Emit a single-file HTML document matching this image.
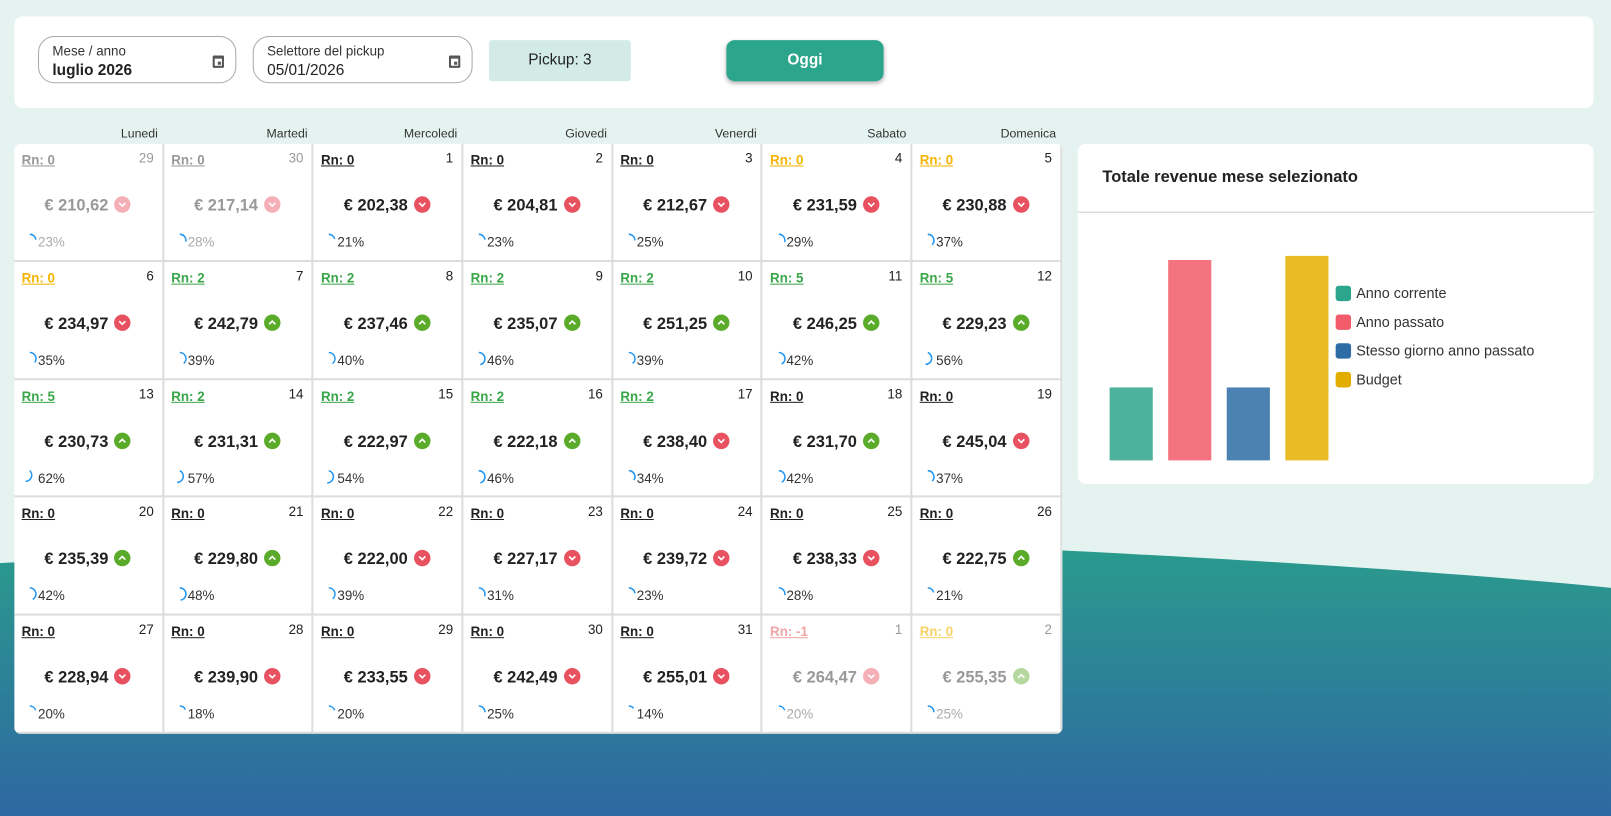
<!DOCTYPE html>
<html><head><meta charset="utf-8"><style>
*{box-sizing:border-box;margin:0;padding:0}
html,body{width:1611px;height:816px;overflow:hidden;background:#e4f3ef;font-family:"Liberation Sans",sans-serif;color:#222}
#w{position:absolute;left:0;top:0;width:1568px;height:794px;transform:scale(1.02742,1.0277);transform-origin:0 0}
.abs{position:absolute}
.card{background:#fff;border-radius:8px}
.field{position:absolute;top:35px;height:46px;border:1px solid #aaa;border-radius:16px;background:#fff}
.field .l{position:absolute;left:13px;top:6px;font-size:13px;color:#333}
.field .v{position:absolute;left:13px;top:24px;font-size:15px;font-weight:bold;color:#222}
.field .ic{position:absolute;right:11px;top:18px;width:11px;height:12px;border:2px solid #555;border-top-width:3px;border-radius:1px}
.field .ic:after{content:"";position:absolute;right:1px;bottom:1px;width:3px;height:3px;background:#555}
.hd{position:absolute;top:123px;font-size:12px;color:#333;text-align:right;width:140px}
#grid{position:absolute;left:14px;top:140px;width:1020px;height:574px;background:#fff;border-radius:6px;overflow:hidden}
.c{position:absolute;border-right:2px solid #ddd;border-bottom:2px solid #ddd}
.rn{position:absolute;left:8px;top:9px;font-size:13px;font-weight:bold;text-decoration:underline}
.dn{position:absolute;right:8px;top:7px;font-size:13px;color:#222}
.pr{position:absolute;left:0;right:0;top:52px;text-align:center;font-size:16px;font-weight:bold;color:#222}
.ico{display:inline-block;width:16px;height:16px;border-radius:50%;vertical-align:-2px;margin-left:6px;position:relative}
.ico svg{position:absolute;left:0;top:0}
.pc{position:absolute;left:10px;top:88px;font-size:13px;color:#333}
.pc svg{vertical-align:-1px;margin-right:1px}
.f{opacity:.45}
</style></head><body><div id="w">
<svg class="abs" style="left:0;top:0" width="1568" height="794">
<defs><linearGradient id="g" x1="0" y1="0" x2="0" y2="1"><stop offset="0" stop-color="#2a9c8c"/><stop offset="1" stop-color="#2e67a2"/></linearGradient></defs>
<path d="M0 548 C300 530 700 520 1000 534 C1250 546 1450 560 1568 572 L1568 794 L0 794Z" fill="url(#g)"/>
</svg>
<div class="card abs" style="left:14px;top:16px;width:1537px;height:89px"></div>
<div class="field" style="left:37px;width:193px"><div class="l">Mese / anno</div><div class="v">luglio 2026</div><div class="ic"></div></div>
<div class="field" style="left:246px;width:214px"><div class="l">Selettore del pickup</div><div class="v" style="font-weight:normal">05/01/2026</div><div class="ic"></div></div>
<div class="abs" style="left:476px;top:39px;width:138px;height:40px;background:#d3ebe6;border-radius:3px;text-align:center;line-height:40px;font-size:15px">Pickup: 3</div>
<div class="abs" style="left:707px;top:39px;width:153px;height:40px;background:#2ba58c;border-radius:8px;text-align:center;line-height:40px;font-size:15px;font-weight:bold;color:#fff;box-shadow:0 2px 4px rgba(0,0,0,.3)">Oggi</div>
<div id="hds"></div>
<div id="grid"></div>
<div class="card abs" style="left:1049px;top:140px;width:502px;height:331px">
<div class="abs" style="left:24px;top:24px;font-size:16px;font-weight:bold;color:#222">Totale revenue mese selezionato</div>
<div class="abs" style="left:0;top:66px;width:502px;height:1px;background:#ccc"></div>
</div>
<svg class="abs" style="left:1049px;top:140px" width="502" height="331" font-family="Liberation Sans, sans-serif" font-size="14" fill="#333">
<rect x="31" y="237" width="42" height="71" fill="#4db19c"/>
<rect x="88" y="113" width="42" height="195" fill="#f5737f"/>
<rect x="145" y="237" width="42" height="71" fill="#4c82b1"/>
<rect x="202" y="109" width="42" height="199" fill="#e9bc26"/>
<rect x="251" y="138" width="15" height="15" rx="3" fill="#2ba58c"/><text x="271" y="150">Anno corrente</text>
<rect x="251" y="166" width="15" height="15" rx="3" fill="#f15b6a"/><text x="271" y="178">Anno passato</text>
<rect x="251" y="194" width="15" height="15" rx="3" fill="#2e6ca5"/><text x="271" y="206">Stesso giorno anno passato</text>
<rect x="251" y="222" width="15" height="15" rx="3" fill="#e3ad00"/><text x="271" y="234">Budget</text>
</svg>
</div>
<script>
var days=["Lunedi","Martedi","Mercoledi","Giovedi","Venerdi","Sabato","Domenica"];
var cw=145.7,ch=114.8,h="";
days.forEach(function(d,i){h+='<div class="hd" style="left:'+(14+cw*(i+1)-146)+'px">'+d+'</div>'});
document.getElementById("hds").innerHTML=h;
var K="#222",G="#3aa64a",O="#f5b400",S="#e86a6a";
var D=[
[29,0,K,"210,62",0,23,1],[30,0,K,"217,14",0,28,1],[1,0,K,"202,38",0,21],[2,0,K,"204,81",0,23],[3,0,K,"212,67",0,25],[4,0,O,"231,59",0,29],[5,0,O,"230,88",0,37],
[6,0,O,"234,97",0,35],[7,2,G,"242,79",1,39],[8,2,G,"237,46",1,40],[9,2,G,"235,07",1,46],[10,2,G,"251,25",1,39],[11,5,G,"246,25",1,42],[12,5,G,"229,23",1,56],
[13,5,G,"230,73",1,62],[14,2,G,"231,31",1,57],[15,2,G,"222,97",1,54],[16,2,G,"222,18",1,46],[17,2,G,"238,40",0,34],[18,0,K,"231,70",1,42],[19,0,K,"245,04",0,37],
[20,0,K,"235,39",1,42],[21,0,K,"229,80",1,48],[22,0,K,"222,00",0,39],[23,0,K,"227,17",0,31],[24,0,K,"239,72",0,23],[25,0,K,"238,33",0,28],[26,0,K,"222,75",1,21],
[27,0,K,"228,94",0,20],[28,0,K,"239,90",0,18],[29,0,K,"233,55",0,20],[30,0,K,"242,49",0,25],[31,0,K,"255,01",0,14],[1,-1,S,"264,47",0,20,1],[2,0,O,"255,35",1,25,1]];
var g="";
D.forEach(function(e,i){
 var c=i%7,r=Math.floor(i/7),f=e[6];
 var up=e[4];
 var ic='<span class="ico'+(f?' f':'')+'" style="background:'+(up?'#5aab2a':'#e8515f')+'"><svg width="16" height="16"><path d="'+(up?'M5 9.5 L8 6.5 L11 9.5':'M5 6.5 L8 9.5 L11 6.5')+'" stroke="#fff" stroke-width="1.6" fill="none"/></svg></span>';
 var a=Math.min(e[5],70)/100*2*Math.PI, x=6+6*Math.sin(a), y=7-6*Math.cos(a);
 var arc='<svg width="13" height="14"><path d="M6 1 A6 6 0 0 1 '+x.toFixed(2)+' '+y.toFixed(2)+'" stroke="#2196f3" stroke-width="1.5" fill="none"/></svg>';
 var tc=f?'#999':'#222';
 g+='<div class="c" style="left:'+(c*cw-1)+'px;top:'+(r*ch-1)+'px;width:'+(cw+1)+'px;height:'+(ch+1)+'px">'+
 '<div class="rn" style="color:'+(f?(e[2]==K?'#999':e[2]):e[2])+';'+(f&&e[2]!=K?'opacity:.6':'')+'">Rn: '+e[1]+'</div>'+
 '<div class="dn" style="color:'+tc+'">'+e[0]+'</div>'+
 '<div class="pr" style="color:'+tc+'">€ '+e[3]+ic+'</div>'+
 '<div class="pc" style="color:'+(f?'#aaa':'#333')+'">'+arc+e[5]+'%</div></div>';
});
document.getElementById("grid").innerHTML=g;
</script>
</body></html>
